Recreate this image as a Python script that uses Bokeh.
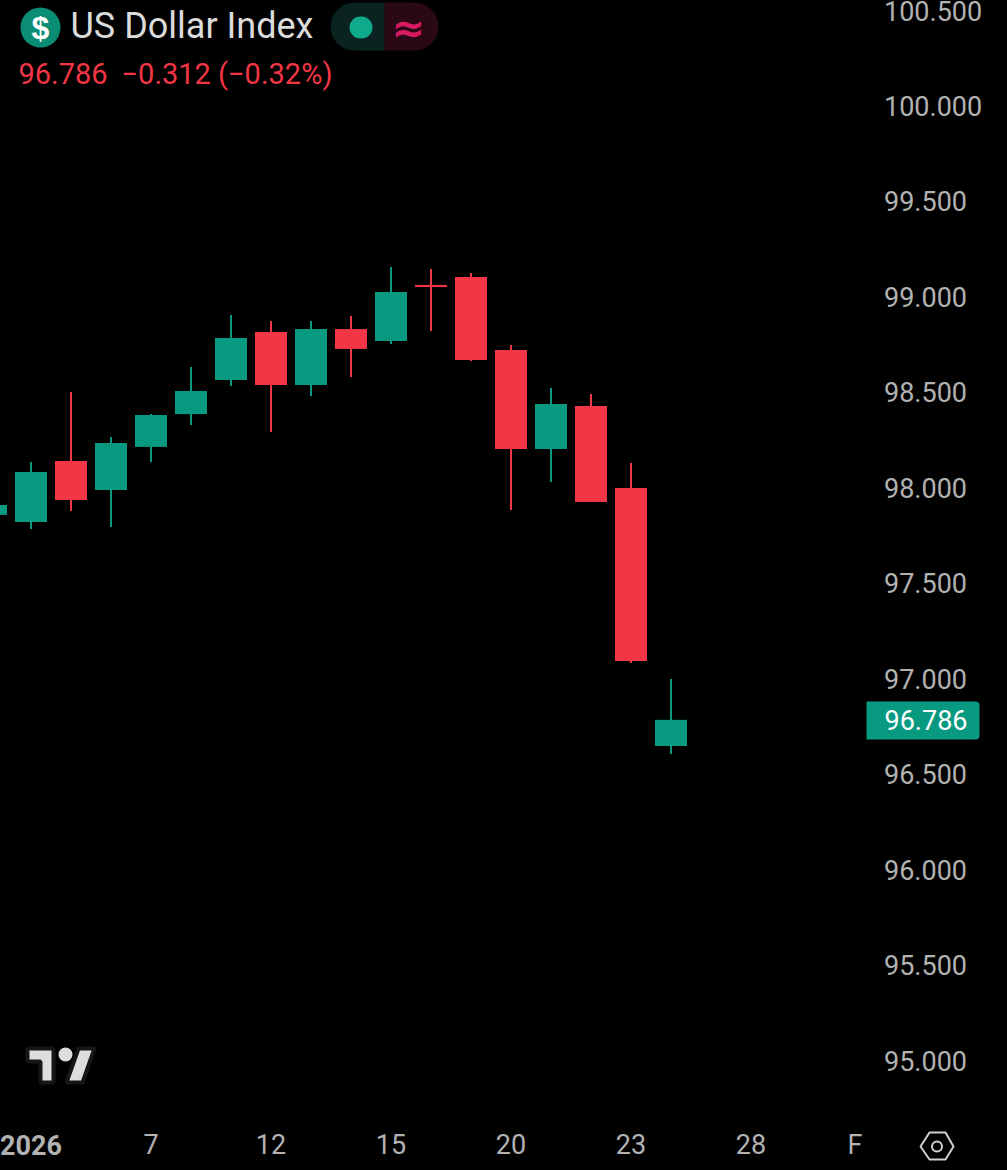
from bokeh.plotting import figure
from bokeh.models import (ColumnDataSource, Range1d, LinearAxis, FixedTicker, Label, BoxAnnotation,
                          NumeralTickFormatter)
from bokeh.embed import file_html
from bokeh.resources import INLINE

# ---- data ----
sessions = [-1, 0, 1, 2, 3, 4, 5, 6, 7, 8, 9, 10, 11, 12, 13, 14, 15, 16]
opens  = [97.859, 97.822, 98.141, 97.990, 98.215, 98.387, 98.565, 98.817, 98.539, 98.832, 98.770, 99.063, 99.105, 98.723, 98.204, 98.429, 98.000, 96.649]
closes = [97.911, 98.084, 97.937, 98.236, 98.382, 98.508, 98.785, 98.539, 98.832, 98.728, 99.026, 99.052, 98.670, 98.204, 98.440, 97.927, 97.094, 96.786]
highs  = [97.911, 98.136, 98.503, 98.267, 98.387, 98.634, 98.906, 98.874, 98.874, 98.901, 99.157, 99.147, 99.126, 98.749, 98.524, 98.492, 98.131, 97.000]
lows   = [97.859, 97.785, 97.880, 97.796, 98.136, 98.330, 98.534, 98.293, 98.482, 98.581, 98.754, 98.822, 98.665, 97.885, 98.031, 97.927, 97.084, 96.607]
price_ticks = [95.0, 95.5, 96.0, 96.5, 97.0, 97.5, 98.0, 98.5, 99.0, 99.5, 100.0, 100.5]
date_ticks = [3, 6, 9, 12, 15, 18, 20.6]
date_labels = ["7", "12", "15", "20", "23", "28", "F"]
year_label = "2026"
title = "US Dollar Index"
last_price = "96.786"
change = "\u22120.312 (\u22120.32%)"

GREEN = "#089981"
RED = "#F23645"
TXT = "#B2B2B2"
H = 1170

colors = [GREEN if c >= o else RED for o, c in zip(opens, closes)]
src = ColumnDataSource(dict(x=sessions, o=opens, c=closes, h=highs, l=lows, color=colors))

p = figure(width=1008, height=H + 1, output_backend="svg", toolbar_location=None,
           x_range=Range1d(-0.7875, 24.4125), y_range=Range1d(94.4264, 100.5576),
           x_axis_type=None, y_axis_type=None,
           background_fill_color="black", border_fill_color="black", outline_line_color=None,
           min_border=0,
           styles={"position": "absolute", "left": "-1px", "top": "-1px"})
p.grid.visible = False
p.extra_x_ranges["px"] = Range1d(-1, 1007)
p.extra_y_ranges["px"] = Range1d(1170, -1)

p.segment("x", "h", "x", "l", source=src, color="color", line_width=2)
p.vbar("x", 0.8, "o", "c", source=src, fill_color="color", line_color=None)

ya = LinearAxis(ticker=FixedTicker(ticks=price_ticks), formatter=NumeralTickFormatter(format="0.000"),
                fixed_location=21.1,
                axis_line_color=None, major_tick_line_color=None, minor_tick_line_color=None,
                major_tick_in=0, major_tick_out=0, minor_tick_in=0, minor_tick_out=0,
                major_label_text_color=TXT, major_label_text_font="Roboto",
                major_label_text_font_size="27px", major_label_standoff=9)
p.add_layout(ya, "right")
xa = LinearAxis(ticker=FixedTicker(ticks=date_ticks), fixed_location=94.654,
                major_label_overrides={t: s for t, s in zip(date_ticks, date_labels)},
                axis_line_color=None, major_tick_line_color=None, minor_tick_line_color=None,
                major_tick_in=0, major_tick_out=0, minor_tick_in=0, minor_tick_out=0,
                major_label_text_color=TXT, major_label_text_font="Roboto",
                major_label_text_font_size="27px", major_label_standoff=2)
p.add_layout(xa, "below")


def txt(s, x, y, size, color, style="normal", font="Roboto", align="left"):
    p.add_layout(Label(x=x + 1, y=H - y, x_units="screen", y_units="screen", text=s, text_color=color,
                       text_font=font, text_font_size=size, text_font_style=style,
                       text_align=align, text_baseline="middle"))


def box(l, r, t, b, color, radius=0):
    p.add_layout(BoxAnnotation(left=l + 1, right=r + 1, top=H - t, bottom=H - b,
                               left_units="screen", right_units="screen", top_units="screen", bottom_units="screen",
                               fill_color=color, fill_alpha=1, line_color=None,
                               border_radius=radius))


# header
box(20, 60, 7, 47, "#0B8C74", 20)
txt("$", 40, 27, "32px", "white", "bold", "Liberation Sans", "center")
txt(title, 70, 25, "36px", "#DBDBDB")
box(330, 384, 2, 50, "#0A2320", (24, 0, 0, 24))
box(384, 438, 2, 50, "#2A0814", (0, 24, 24, 0))
box(349, 372, 16, 38, "#0FA98B", 11)
txt("\u2248", 408, 27, "40px", "#D81B60", "bold", "DejaVu Sans", "center")
txt(last_price, 18, 73, "29px", RED)
txt(change, 121, 73, "29px", RED)

# last price tag
box(866, 979, 701, 739, GREEN, (0, 4, 4, 0))
txt(last_price, 884, 719, "27px", "white")

# year label
p.add_layout(Label(x=0, y=H - 1144, x_units="data", y_units="screen", text=year_label, text_color=TXT,
                   text_font="Roboto", text_font_size="27px", text_font_style="bold",
                   text_align="center", text_baseline="middle"))

# logo
p.multi_polygons(xs=[[[[27, 53, 53, 40, 40, 27]]], [[[78, 94, 82, 66]]]],
                 ys=[[[[1048, 1048, 1082, 1082, 1061, 1061]]], [[[1048, 1048, 1082, 1082]]]],
                 fill_color="#DEDEDE", line_color="#161616", line_width=4,
                 x_range_name="px", y_range_name="px")
p.circle([65], [1054], radius=7, fill_color="#DEDEDE", line_color=None,
         x_range_name="px", y_range_name="px")

# settings hexagon
hx = [920, 929, 945, 953, 945, 929]
hy = [1146, 1132, 1132, 1146, 1159, 1159]
p.patch(hx, hy, fill_alpha=0, line_color="#D0D0D0", line_width=2, x_range_name="px", y_range_name="px")
p.circle([936.5], [1146], radius=5, fill_alpha=0, line_color="#D0D0D0", line_width=2,
         x_range_name="px", y_range_name="px")

open("out.html", "w").write(file_html(p, INLINE))
